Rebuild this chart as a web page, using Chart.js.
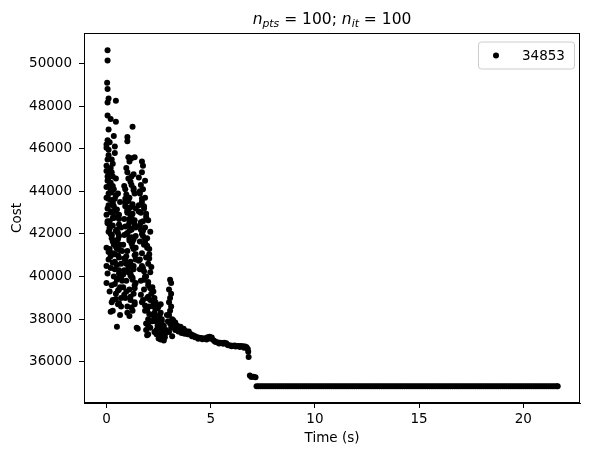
<!DOCTYPE html>
<html lang="en">
<head>
<meta charset="UTF-8">
<title>Cost vs time</title>
<script src="https://cdn.jsdelivr.net/npm/chart.js"></script>
<style>
  body { margin: 0; background: #fff; }
  #chart { display: block; }
</style>
</head>
<body>
<canvas id="chart" width="589" height="456"></canvas>
<script>
// --- data (time in s, cost) ---
const xTicks = [0, 5, 10, 15, 20];
const yTicks = [36000, 38000, 40000, 42000, 44000, 46000, 48000, 50000];
const legendLabel = '34853';

// first burst, t ~ 0 - 0.8
const s1Time = [0.05,0.05,0.03,0.05,0.1,0.05,0.45,0.05,0.2,0.45,0.1,0.05,0.15,0.0,0.4,0.1,0.4,0.05,0.3,0.0,
  0.15,0.3,0.05,0.2,0.0,0.35,0.1,0.45,0.2,0.3,0.05,0.25,0.0,0.4,0.15,0.3,0.5,0.1,0.6,0.25,
  0.45,0.0,0.15,0.3,0.55,0.1,0.4,0.0,0.2,0.6,0.05,0.35,0.5,0.0,0.25,0.65,0.15,0.45,0.7,0.3,
  0.25,0.55,0.3,0.2,0.65,0.5,
  0.6,0.7,0.65,0.75,0.6,0.7,0.8,0.75,0.6,0.7,0.35,0.1,0.2,0.35,0.25,
  0.0,0.1,0.2,0.05,0.15,0.25,0.0,0.1,0.2,0.3,0.05,0.15,0.25,0.35,0.0,0.1,0.2,0.3,0.4,0.05,
  0.15,0.25,0.35,0.45,0.1,0.2,0.3,0.4,0.5,0.55,0.6,0.65,0.5,0.55,0.6,0.45,0.4,
  0.3,0.4,0.5,0.6,0.35,0.45,0.55,0.65,0.3,0.4,0.5,0.6,0.7,0.45,0.55,0.25,0.35];
const s1Cost = [50625,50140,49100,48800,48360,48170,48250,47560,47400,47270,46900,46400,46300,46050,46100,45950,45800,45500,45300,44950,
  44850,44700,44500,44400,44200,44100,43900,43800,43600,43400,43200,43000,42900,42800,42600,42400,42200,42100,41900,41800,
  41600,41350,41300,41100,41000,40800,40700,40500,40400,40300,40150,40000,39900,39700,39600,39500,39300,39200,39000,38900,
  38800,38700,38400,38350,38200,37650,
  42700,42300,41500,41200,40900,40600,40100,39800,39400,38600,43300,43650,42000,41500,44900,
  46200,45700,45100,44700,44300,43950,43700,43350,43050,42750,42500,42250,41950,41700,45200,44650,44050,43500,43050,42600,
  42300,41950,41650,41400,41150,40950,40650,40350,41300,42050,42900,43500,39850,39350,38750,38950,39650,
  44250,43650,43150,42450,42750,42150,41750,41250,41650,41050,40550,40150,39950,44600,43900,45500,46600];

// second burst, t ~ 0.8 - 1.5
const s2Time = [1.25,1.0,1.0,1.05,1.2,1.35,1.1,0.95,1.3,1.05,1.2,0.9,1.35,1.1,0.95,1.25,1.4,1.0,1.15,0.85,
  1.3,1.05,1.2,0.95,1.4,1.1,0.8,1.25,1.0,1.35,0.9,1.15,1.3,0.85,1.05,1.2,0.95,1.4,0.8,1.1,
  1.3,0.9,1.15,1.35,1.0,1.25,1.1,1.45,1.5,
  1.0,1.15,1.3,0.9,1.05,1.2,1.35,1.1,0.85,1.25,
  0.85,0.95,1.05,1.15,1.25,1.35,0.9,1.0,1.1,1.2,1.3,1.4,0.85,0.95,1.05,1.15,1.25,1.35,0.9,1.0,
  1.1,1.2,1.3,1.4,0.95,1.15,1.35,1.2,1.3,1.4,
  0.9,1.0,1.1,1.2,1.3,1.4,0.95,1.05,1.15,1.25,1.35,0.85,1.0,1.2];
const s2Cost = [47030,46550,46350,45600,45550,45600,45400,45100,44800,44600,44300,44100,43900,43700,43500,43400,43200,43000,42900,42700,
  42600,42400,42200,42000,41900,41700,41500,41400,41200,41000,40800,40700,40500,40300,40200,40000,39800,39700,39500,39400,
  39200,39000,38900,38700,38600,38400,38150,37600,37550,
  44900,44450,44150,43300,43100,42800,42450,42150,41950,41650,
  44250,43850,43550,43250,42950,42650,42350,42050,41800,41550,41300,41050,40850,40600,40400,40150,39950,39600,43650,43150,
  42700,41850,40350,40800,39300,39050,38800,44700,44050,42300,
  43450,43050,42550,42250,41750,41350,40950,40550,40050,39850,39450,39150,38300,38550];

// third burst, t ~ 1.55 - 2.3
const s3Time = [1.7,1.75,1.7,1.55,1.85,1.65,1.75,1.6,1.85,1.7,1.55,1.8,1.65,1.9,1.75,1.6,1.85,2.1,1.7,1.95,
  1.6,1.8,2.05,1.7,1.9,1.55,2.0,1.75,2.1,1.85,1.65,2.0,1.8,2.15,1.95,1.7,2.05,1.85,2.2,2.0,
  1.9,2.1,2.0,1.95,
  1.6,1.7,1.8,1.9,2.0,1.65,1.75,1.85,1.95,2.05,1.6,1.7,1.8,1.9,2.0,2.1,1.65,1.75,1.85,1.95,
  2.05,2.15,1.9,2.0,2.1,2.2,2.25,2.3,
  1.55,1.65,1.75,1.85,1.95,2.05,1.6,1.8,2.0,2.15];
const s3Cost = [45400,45200,44900,44650,44500,44300,44100,43900,43700,43500,43350,43200,43000,42800,42600,42400,42300,42100,42000,41800,
  41650,41500,41300,41100,40900,40750,40600,40400,40200,40000,39800,39600,39400,39200,39000,38800,38600,38400,38200,38000,
  37800,37600,37300,37250,
  44000,43650,43300,42950,42650,42200,41900,41600,41350,41050,40800,40500,40250,40000,39750,39450,39150,38900,38650,38450,
  38250,37900,37500,37700,38900,39500,38600,38000,
  43050,42550,42150,41750,41450,40850,40350,39850,39050,40450];

// settling, t ~ 2.2 - 3.15
const s4Time = [2.25,2.3,2.25,2.35,2.3,2.4,2.35,2.45,2.4,2.5,2.55,2.5,2.6,2.55,2.65,2.6,2.7,2.75,2.7,2.65,
  2.2,2.3,2.8,2.85,2.9,2.95,3.05,3.1,3.0,3.1,3.05,3.0,3.1,3.05,3.0,3.15,3.05,3.1,3.0,3.15,
  2.35,2.45,2.55,2.65,2.75,2.85,2.4,2.5,2.6,2.7,2.8,2.5,2.6];
const s4Cost = [39300,39000,38700,38500,38300,38100,37900,37700,37500,37300,37800,38000,38300,37600,37400,37200,37100,37000,37600,38000,
  37900,37400,37300,37500,38200,37900,39850,39700,39400,39200,39000,38800,38600,38400,38200,38000,37800,37600,37400,37200,
  38800,38500,38200,37900,37700,37400,37300,37100,37050,37250,37150,38600,38700];

// slow tail, t ~ 3.2 - 6.8
const tailTime = [3.2,3.25,3.3,3.4,3.45,3.55,3.6,3.7,3.8,3.85,3.95,4.05,4.15,4.25,4.35,4.45,4.55,4.65,4.75,4.85,
  4.95,5.05,5.15,5.25,5.35,5.45,5.55,5.65,5.75,5.85,5.95,6.05,6.15,6.25,6.35,6.45,6.55,6.65,6.72,6.78,
  6.8,6.82,
  3.3,3.45,3.6,3.75,3.9,
  3.25,3.35,3.5,3.65,3.8,3.95,4.1,4.25,4.4,4.6,4.8,5.0,5.2,5.4,5.6,5.8,6.0,6.2,6.4,6.6];
const tailCost = [37950,37750,37850,37700,37600,37650,37500,37550,37450,37400,37420,37300,37250,37200,37150,37130,37120,37100,37110,37150,
  37180,37140,37000,36930,36910,36900,36890,36900,36870,36780,36770,36760,36770,36750,36740,36750,36730,36720,36680,36600,
  36470,36230,
  37500,37420,37350,37320,37300,
  37650,37600,37500,37400,37350,37300,37200,37150,37080,37060,37050,37080,36950,36860,36850,36800,36730,36720,36700,36660];

// drop before the final plateau
const dropTime = [6.88, 6.95, 7.05, 7.15];
const dropCost = [35360, 35290, 35300, 35280];

// final plateau
const flatCost = 34853;
const flatTime = [7.2,7.3,7.4,7.5,7.6,7.7,7.8,7.9,8.0,8.1,8.2,8.3,8.4,8.5,8.6,8.7,8.8,8.9,9.0,9.1,
  9.2,9.3,9.4,9.5,9.6,9.7,9.8,9.9,10.0,10.1,10.2,10.3,10.4,10.5,10.6,10.7,10.8,10.9,11.0,11.1,
  11.2,11.3,11.4,11.5,11.6,11.7,11.8,11.9,12.0,12.1,12.2,12.3,12.4,12.5,12.6,12.7,12.8,12.9,13.0,13.1,
  13.2,13.3,13.4,13.5,13.6,13.7,13.8,13.9,14.0,14.1,14.2,14.3,14.4,14.5,14.6,14.7,14.8,14.9,15.0,15.1,
  15.2,15.3,15.4,15.5,15.6,15.7,15.8,15.9,16.0,16.1,16.2,16.3,16.4,16.5,16.6,16.7,16.8,16.9,17.0,17.1,
  17.2,17.3,17.4,17.5,17.6,17.7,17.8,17.9,18.0,18.1,18.2,18.3,18.4,18.5,18.6,18.7,18.8,18.9,19.0,19.1,
  19.2,19.3,19.4,19.5,19.6,19.7,19.8,19.9,20.0,20.1,20.2,20.3,20.4,20.5,20.6,20.7,20.8,20.9,21.0,21.1,
  21.2,21.3,21.4,21.5,21.6,21.65];

const FONT = "'DejaVu Sans', sans-serif";

function pairs(ts, cs) {
  return ts.map((t, i) => ({ x: t, y: cs[i] }));
}

const points = [].concat(
  pairs(s1Time, s1Cost),
  pairs(s2Time, s2Cost),
  pairs(s3Time, s3Cost),
  pairs(s4Time, s4Cost),
  pairs(tailTime, tailCost),
  pairs(dropTime, dropCost),
  flatTime.map(t => ({ x: t, y: flatCost }))
);

// title with italic n and subscripts, like the mathtext one
const titleParts = [
  { text: 'n', italic: true },
  { text: 'pts', italic: true, sub: true },
  { text: ' = 100; ' },
  { text: 'n', italic: true },
  { text: 'it', italic: true, sub: true },
  { text: ' = 100' }
];

const decorPlugin = {
  id: 'decor',
  afterDraw(chart) {
    const { ctx, chartArea: a } = chart;
    ctx.save();

    // full frame round the plot
    ctx.strokeStyle = '#000';
    ctx.lineWidth = 1;
    ctx.strokeRect(Math.round(a.left) + 0.5, Math.round(a.top) + 0.5,
      Math.round(a.right - a.left) - 1, Math.round(a.bottom - a.top) - 1);

    // title
    const size = 15.5;
    const fontFor = p => (p.italic ? 'oblique ' : '') + (p.sub ? size * 0.7 : size) + 'px ' + FONT;
    let w = 0;
    titleParts.forEach(p => { ctx.font = fontFor(p); w += ctx.measureText(p.text).width; });
    let x = (a.left + a.right) / 2 - w / 2;
    const base = 24;
    ctx.fillStyle = '#000';
    ctx.textBaseline = 'alphabetic';
    ctx.textAlign = 'left';
    titleParts.forEach(p => {
      ctx.font = fontFor(p);
      ctx.fillText(p.text, x, p.sub ? base + size * 0.22 : base);
      x += ctx.measureText(p.text).width;
    });

    // legend box in the upper right corner
    const bw = 96, bh = 27;
    const bx = a.right - 6 - bw, by = a.top + 8.5;
    ctx.beginPath();
    ctx.roundRect(bx + 0.5, by + 0.5, bw, bh, 3);
    ctx.fillStyle = 'rgba(255,255,255,0.8)';
    ctx.fill();
    ctx.strokeStyle = '#cccccc';
    ctx.stroke();
    ctx.beginPath();
    ctx.arc(bx + 18, by + bh / 2 + 0.5, 3, 0, Math.PI * 2);
    ctx.fillStyle = '#000';
    ctx.fill();
    ctx.font = '13.5px ' + FONT;
    ctx.textBaseline = 'middle';
    ctx.fillText(chart.data.datasets[0].label, bx + 44, by + bh / 2 + 1);

    ctx.restore();
  }
};

const tickFont = { family: FONT, size: 13.5 };

new Chart(document.getElementById('chart'), {
  type: 'scatter',
  data: {
    datasets: [{
      label: legendLabel,
      data: points,
      backgroundColor: '#000',
      borderColor: '#000',
      pointRadius: 3,
      pointHoverRadius: 3,
      pointBorderWidth: 0
    }]
  },
  options: {
    responsive: false,
    animation: false,
    devicePixelRatio: 1,
    events: [],
    layout: { padding: { top: 33, right: 9, bottom: 0, left: 0 } },
    plugins: {
      legend: { display: false },
      title: { display: false },
      tooltip: { enabled: false }
    },
    scales: {
      x: {
        type: 'linear',
        min: -1.08,
        max: 22.72,
        afterBuildTicks: s => { s.ticks = xTicks.map(v => ({ value: v })); },
        afterFit: s => { s.height = 53; },
        grid: { drawOnChartArea: false, drawTicks: true, tickLength: 5, color: '#000', lineWidth: 1 },
        border: { display: true, color: '#000', width: 1 },
        ticks: { color: '#000', font: tickFont, padding: 3, maxRotation: 0, autoSkip: false, callback: v => String(v) },
        title: { display: true, text: 'Time (s)', color: '#000', font: tickFont, padding: { top: 0, bottom: 9.5 } }
      },
      y: {
        type: 'linear',
        min: 34070,
        max: 51430,
        afterBuildTicks: s => { s.ticks = yTicks.map(v => ({ value: v })); },
        afterFit: s => { s.width = 84; },
        grid: { drawOnChartArea: false, drawTicks: true, tickLength: 5, color: '#000', lineWidth: 1 },
        border: { display: true, color: '#000', width: 1 },
        ticks: { color: '#000', font: tickFont, padding: 7, autoSkip: false, callback: v => String(v) },
        title: { display: true, text: 'Cost', color: '#000', font: tickFont, padding: { top: 9, bottom: 0 } }
      }
    }
  },
  plugins: [decorPlugin]
});
</script>
</body>
</html>
